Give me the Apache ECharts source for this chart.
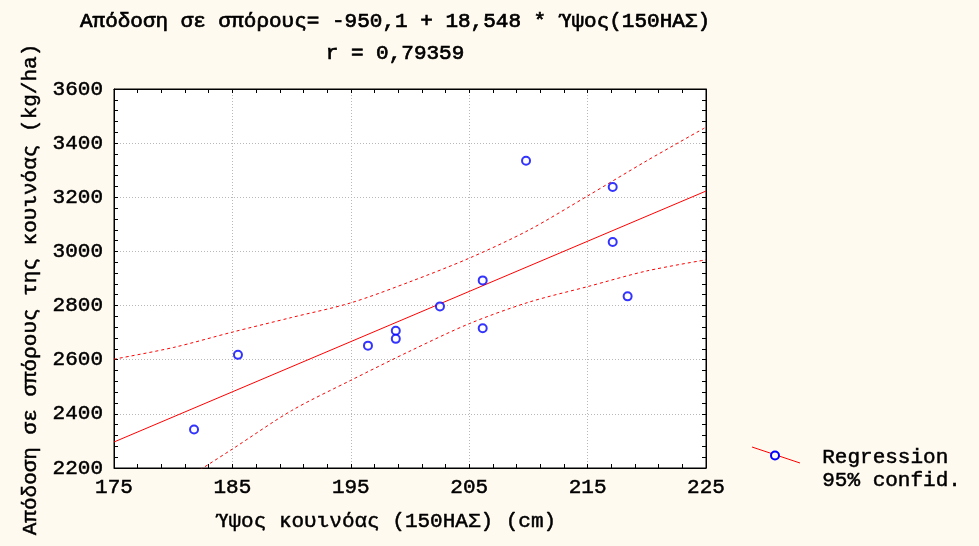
<!DOCTYPE html>
<html>
<head>
<meta charset="utf-8">
<script src="https://cdn.jsdelivr.net/npm/echarts@6/dist/echarts.min.js"></script>
<style>
html,body{margin:0;padding:0;background:#FFFAF0;}
#c{width:979px;height:546px;}
</style>
</head>
<body>
<div id="c"></div>
<script>
// Observations: height (cm) vs seed yield (kg/ha)
var heightCm = [181.76, 185.47, 196.45, 198.8, 198.8, 202.53, 206.14, 206.14, 209.8, 217.12, 217.12, 218.38];
var yieldKg  = [2342, 2618, 2652, 2707, 2677, 2797, 2893, 2716, 3335, 3238, 3035, 2834];
// Regression line endpoints
var regX = [175, 225];
var regY = [2296, 3223];
// 95% confidence band
var bandX   = [175, 180, 185, 190, 195, 200, 205, 210, 215, 220, 225];
var upperY  = [2602, 2645, 2702, 2756, 2810, 2888, 2975, 3078, 3205, 3335, 3459];
var lowerY  = [1990, 2130, 2270, 2412, 2524, 2632, 2733, 2812, 2870, 2928, 2969];
// Axis settings
var xMin = 175, xMax = 225, xStep = 10;
var yMin = 2200, yMax = 3600, yStep = 200;
var titleLine1 = 'Απόδοση σε σπόρους= -950,1 + 18,548 * Ύψος(150ΗΑΣ)';
var titleLine2 = 'r = 0,79359';
var xName = 'Ύψος κουινόας (150ΗΑΣ) (cm)';
var yName = 'Απόδοση σε σπόρους της κουινόας (kg/ha)';
var legendNames = ['Regression', '95% confid.'];

function zip(a, b) { return a.map(function (v, i) { return [v, b[i]]; }); }

var FONT = "'Liberation Mono', 'DejaVu Sans Mono', monospace";
var txt = { fontFamily: FONT, fontSize: 21, color: '#000', textBorderColor: '#000', textBorderWidth: 0.5 };
function ts(extra) { return Object.assign({}, txt, extra || {}); }
var tickStyle = { show: true, inside: true, length: 4, lineStyle: { color: '#000', width: 1 } };
var minorStyle = { show: true, splitNumber: 5, length: 4, lineStyle: { color: '#000', width: 1 } };
var gridLine = { show: true, lineStyle: { color: '#b8b8b8', width: 1, type: [1, 2] } };
var plain = function (v) { return String(v); };

var chart = echarts.init(document.getElementById('c'), null, { renderer: 'canvas' });
chart.setOption({
  backgroundColor: '#FFFAF0',
  animation: false,
  title: {
    text: titleLine1 + '\n' + titleLine2,
    left: 390, top: 0, textAlign: 'center',
    textStyle: ts({ fontWeight: 'normal', lineHeight: 32, textBorderWidth: 0.7 })
  },
  grid: { left: 114, top: 89, width: 592, height: 379, show: true, backgroundColor: '#fff', borderColor: '#000', borderWidth: 1 },
  xAxis: [{
    type: 'value', min: xMin, max: xMax, interval: xStep, position: 'bottom',
    axisLine: { show: true, onZero: false, lineStyle: { color: '#000' } },
    axisTick: tickStyle, minorTick: minorStyle, splitLine: gridLine,
    axisLabel: ts({ margin: 9, formatter: plain }),
    name: xName, nameLocation: 'middle', nameGap: 43,
    nameTextStyle: ts({ padding: [0, 48, 0, 0] })
  }, {
    type: 'value', min: xMin, max: xMax, interval: xStep, position: 'top',
    axisLine: { show: true, onZero: false, lineStyle: { color: '#000' } },
    axisTick: tickStyle, minorTick: minorStyle, splitLine: { show: false }, axisLabel: { show: false }
  }],
  yAxis: [{
    type: 'value', min: yMin, max: yMax, interval: yStep, position: 'left',
    axisLine: { show: true, onZero: false, lineStyle: { color: '#000' } },
    axisTick: tickStyle, minorTick: minorStyle, splitLine: gridLine,
    axisLabel: ts({ margin: 11, formatter: plain }),
    name: yName, nameLocation: 'middle', nameGap: 67, nameRotate: 90,
    nameTextStyle: ts({ padding: [0, 22, 0, 0] })
  }, {
    type: 'value', min: yMin, max: yMax, interval: yStep, position: 'right',
    axisLine: { show: true, onZero: false, lineStyle: { color: '#000' } },
    axisTick: tickStyle, minorTick: minorStyle, splitLine: { show: false }, axisLabel: { show: false }
  }],
  series: [{
    name: legendNames[1] + ' upper', type: 'line', data: zip(bandX, upperY), showSymbol: false, symbol: 'none', smooth: 0.3,
    lineStyle: { color: '#ff0000', width: 1, type: [3, 3] }, clip: true, z: 2
  }, {
    name: legendNames[1] + ' lower', type: 'line', data: zip(bandX, lowerY), showSymbol: false, symbol: 'none', smooth: 0.3,
    lineStyle: { color: '#ff0000', width: 1, type: [3, 3] }, clip: true, z: 2
  }, {
    name: legendNames[0] + ' line', type: 'line', data: zip(regX, regY), showSymbol: false, symbol: 'none',
    lineStyle: { color: '#ff0000', width: 1 }, clip: true, z: 3
  }, {
    name: legendNames[0], type: 'scatter', data: zip(heightCm, yieldKg),
    symbol: 'emptyCircle', symbolSize: 8,
    itemStyle: { color: '#0000ff', borderColor: '#0000ff', borderWidth: 2 }, z: 5
  }],
  graphic: [
    { type: 'line', shape: { x1: 752, y1: 447, x2: 800, y2: 463 }, style: { stroke: '#ff0000', lineWidth: 1 } },
    { type: 'circle', shape: { cx: 775, cy: 455.5, r: 4 }, style: { fill: '#FFFAF0', stroke: '#0000ff', lineWidth: 2 } },
    { type: 'text', left: 822, top: 447, style: { text: legendNames[0], font: '21px ' + FONT, fill: '#000', stroke: '#000', lineWidth: 0.5 } },
    { type: 'text', left: 822, top: 470, style: { text: legendNames[1], font: '21px ' + FONT, fill: '#000', stroke: '#000', lineWidth: 0.5 } }
  ]
});
</script>
</body>
</html>
